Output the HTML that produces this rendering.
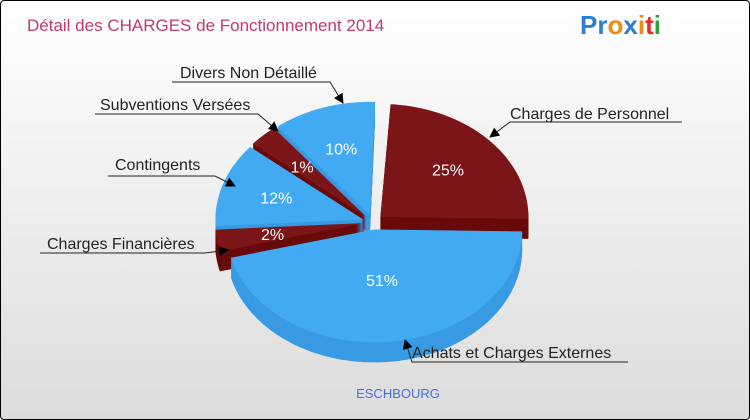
<!DOCTYPE html>
<html><head><meta charset="utf-8"><style>
html,body{margin:0;padding:0;}
body{width:750px;height:420px;overflow:hidden;font-family:"Liberation Sans",sans-serif;}
#frame{position:absolute;left:0;top:0;width:748px;height:418px;border:1px solid #000;border-radius:4px;background:linear-gradient(#ffffff,#dcdcdc);}
</style></head><body>
<div id="frame">
<svg id="chart" width="750" height="420" style="position:absolute;left:-1px;top:-1px">
<defs><marker id="arr" markerWidth="10" markerHeight="10" refX="9" refY="5" orient="auto" markerUnits="userSpaceOnUse"><path d="M0,0 L10,5 L0,10 z" fill="#000"/></marker></defs>
<text x="27" y="31" font-size="17" fill="#c4386e">Détail des CHARGES de Fonctionnement 2014</text>
<g font-size="26" font-weight="bold" font-family="'Liberation Sans',sans-serif">
<text x="580" y="34"><tspan fill="#2a7fd0">Pr</tspan><tspan fill="#f08a10">o</tspan><tspan fill="#2a7fd0">x</tspan><tspan fill="#f08a10">i</tspan><tspan fill="#e03020">t</tspan><tspan fill="#30a040">i</tspan></text>
</g>
<g id="slices"></g>
<g id="labels"></g>
<text x="398" y="398" font-size="13" fill="#4a6ee0" text-anchor="middle">ESCHBOURG</text>
</svg>
</div>
<script>
const categories=["Charges de Personnel","Achats et Charges Externes","Charges Financières","Contingents","Subventions Versées","Divers Non Détaillé"];
const values=[25,51,2,12,1,10];
const pctLabels=["25%","51%","2%","12%","1%","10%"];
const colorsTop=["#7b1517","#42aaf2","#7b1517","#42aaf2","#7b1517","#42aaf2"];
const colorsSide=["#680a0a","#389ae2","#680a0a","#389ae2","#680a0a","#389ae2"];
const cx=373,cy=222,rx=148,ry=113,depth=20,explode=10,startDeg=-88;
const NS="http://www.w3.org/2000/svg";
const total=values.reduce((a,b)=>a+b,0);
const gS=document.getElementById('slices');
// perspective-like display warp: piecewise-linear angle mapping (degrees)
const warpIn=[-90,0,181,188,231,235,272];
const warpOut=[-88,0,162,175,212,230,272];
function warp(t){
  for(let k=0;k<warpIn.length-1;k++){
    if(t<=warpIn[k+1]){const f=(t-warpIn[k])/(warpIn[k+1]-warpIn[k]);return warpOut[k]+f*(warpOut[k+1]-warpOut[k]);}
  }
  return t;
}
function pt(a,ox,oy,dy){return [cx+ox+rx*Math.cos(a),cy+oy+ry*Math.sin(a)+dy];}
function slicePath(a0,a1,ox,oy,dy){
  let d="M"+(cx+ox)+","+(cy+oy+dy);
  const n=Math.max(2,Math.ceil((a1-a0)*40));
  for(let i=0;i<=n;i++){const p=pt(a0+(a1-a0)*i/n,ox,oy,dy);d+=" L"+p[0].toFixed(1)+","+p[1].toFixed(1);}
  return d+" Z";
}
let acc=0;const sl=[];
values.forEach((v,i)=>{
  const t0=startDeg+acc/total*360;acc+=v;
  const t1=startDeg+acc/total*360;
  const a0=warp(t0)*Math.PI/180,a1=warp(t1)*Math.PI/180;
  const m=(a0+a1)/2;
  sl.push({i,a0,a1,m,ox:explode*Math.cos(m),oy:explode*Math.sin(m)*0.75});
});
const order=sl.slice().sort((a,b)=>Math.sin(a.m)-Math.sin(b.m));
order.forEach(s=>{
  const g=document.createElementNS(NS,'g');
  
  
  for(let d=depth;d>0;d-=1){
    const p=document.createElementNS(NS,'path');
    p.setAttribute('d',slicePath(s.a0,s.a1,s.ox,s.oy,d));
    p.setAttribute('fill',colorsSide[s.i]);
    g.appendChild(p);
  }
  const top=document.createElementNS(NS,'path');
  top.setAttribute('d',slicePath(s.a0,s.a1,s.ox,s.oy,0));
  top.setAttribute('fill',colorsTop[s.i]);
  g.appendChild(top);
  gS.appendChild(g);
});
sl.forEach(s=>{
  const r=s.i===1?0.45:0.62;
  const t=document.createElementNS(NS,'text');
  t.setAttribute('x',(cx+s.ox+rx*r*Math.cos(s.m)).toFixed(1));
  t.setAttribute('y',(cy+s.oy+ry*r*Math.sin(s.m)+6).toFixed(1));
  t.setAttribute('text-anchor','middle');t.setAttribute('font-size','16');t.setAttribute('fill','#fff');
  t.textContent=pctLabels[s.i];
  
  
  gS.appendChild(t);
});
// callouts: [textX,textY,lineX1,lineX2,lineY,arrowX,arrowY]
const callouts=[[510,119,682,510,122,490,137],[412,358,628,412,362,405,340],[47,249,40,205,253,228,250],[115,170,108,215,176,235,186],[100,110,95,258,114,278,131],[180,78,172,330,82,343,103]];
const gL=document.getElementById('labels');
callouts.forEach((c,i)=>{
  const g=document.createElementNS(NS,'g');
  
  
  const pl=document.createElementNS(NS,'polyline');
  pl.setAttribute('points',c[2]+","+c[4]+" "+c[3]+","+c[4]+" "+c[5]+","+c[6]);
  pl.setAttribute('fill','none');pl.setAttribute('stroke','#222');pl.setAttribute('stroke-width','1');
  pl.setAttribute('marker-end','url(#arr)');
  g.appendChild(pl);
  const t=document.createElementNS(NS,'text');
  t.setAttribute('x',c[0]);t.setAttribute('y',c[1]);t.setAttribute('font-size','16');t.setAttribute('fill','#222');
  t.textContent=categories[i];
  g.appendChild(t);
  gL.appendChild(g);
});
</script>
</body></html>
